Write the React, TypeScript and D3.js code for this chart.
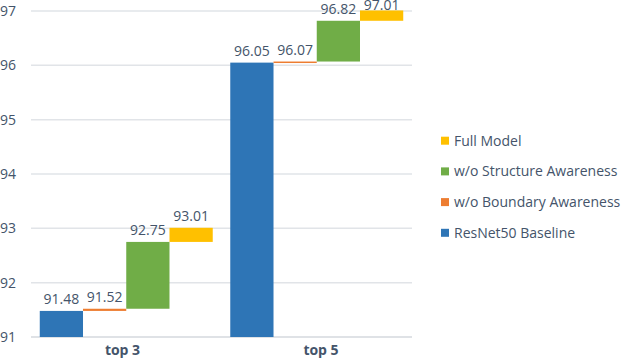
import React from 'react';
import * as d3 from 'd3';

const categories = ['top 3', 'top 5'];
const seriesNames = ['ResNet50 Baseline', 'w/o Boundary Awareness', 'w/o Structure Awareness', 'Full Model'];
const baseline = [91.48, 96.05];
const boundary = [91.52, 96.07];
const structure = [92.75, 96.82];
const full = [93.01, 97.01];
const colors = ['#2E75B6', '#ED7D31', '#70AD47', '#FFC000'];
const yTicks = [91, 92, 93, 94, 95, 96, 97];

const W = 624;
const H = 358;
const font = '"Open Sans", "Noto Sans", sans-serif';
const textColor = '#44546A';

const App = () => {
  const series = [baseline, boundary, structure, full];
  const x = d3.scaleBand().domain(categories).range([31, 412]).paddingInner(0.092).paddingOuter(0.046);
  const xs = d3.scaleBand().domain(seriesNames).range([0, x.bandwidth()]);
  const y = d3.scaleLinear().domain([91, 97]).range([337, 11]);
  // category labels sit a little off the band centres in the original
  const xLabel = d3.scalePoint().domain(categories).range([122.5, 321]);

  // waterfall: each bar starts where the previous one stopped
  const bars = [];
  categories.forEach((c, ci) => {
    series.forEach((vals, si) => {
      const start = si === 0 ? y.domain()[0] : series[si - 1][ci];
      const end = vals[ci];
      bars.push({ c, name: seriesNames[si], start, end, color: colors[si] });
    });
  });

  const legendOrder = seriesNames.map((n, i) => i).reverse();

  return (
    <svg width={W} height={H} style={{ position: 'absolute', left: 0, top: 0 }} fontFamily={font}>
      {yTicks.map(t => (
        <g key={t}>
          <line x1={31} x2={412} y1={y(t)} y2={y(t)} stroke={t === 91 ? '#D4D8DE' : '#E1E4E8'} strokeWidth={1.5} />
          <text x={16} y={y(t)} dy="0.36em" textAnchor="end" fontSize={14} fill={textColor}>{t}</text>
        </g>
      ))}
      {bars.map(b => {
        const bx = x(b.c) + xs(b.name);
        const top = y(b.end);
        const h = Math.max(y(b.start) - y(b.end), 1.5);
        return (
          <g key={b.c + b.name}>
            <rect x={bx} y={top} width={xs.bandwidth()} height={h} fill={b.color} />
            <text x={bx + xs.bandwidth() / 2} y={Math.max(top - 7, 9.5)} textAnchor="middle" fontSize={14} fill={textColor}>
              {b.end.toFixed(2)}
            </text>
          </g>
        );
      })}
      {categories.map(c => (
        <text key={c} x={xLabel(c)} y={355} textAnchor="middle" fontSize={14} fontWeight="bold" fill={textColor}>
          {c}
        </text>
      ))}
      {legendOrder.map((si, i) => {
        const ly = 140.7 + i * 30.7;
        return (
          <g key={seriesNames[si]}>
            <rect x={441} y={ly - 4} width={8} height={8} fill={colors[si]} />
            <text x={454} y={ly} dy="0.36em" fontSize={14} fill={textColor}>{seriesNames[si]}</text>
          </g>
        );
      })}
    </svg>
  );
};

export default App;
